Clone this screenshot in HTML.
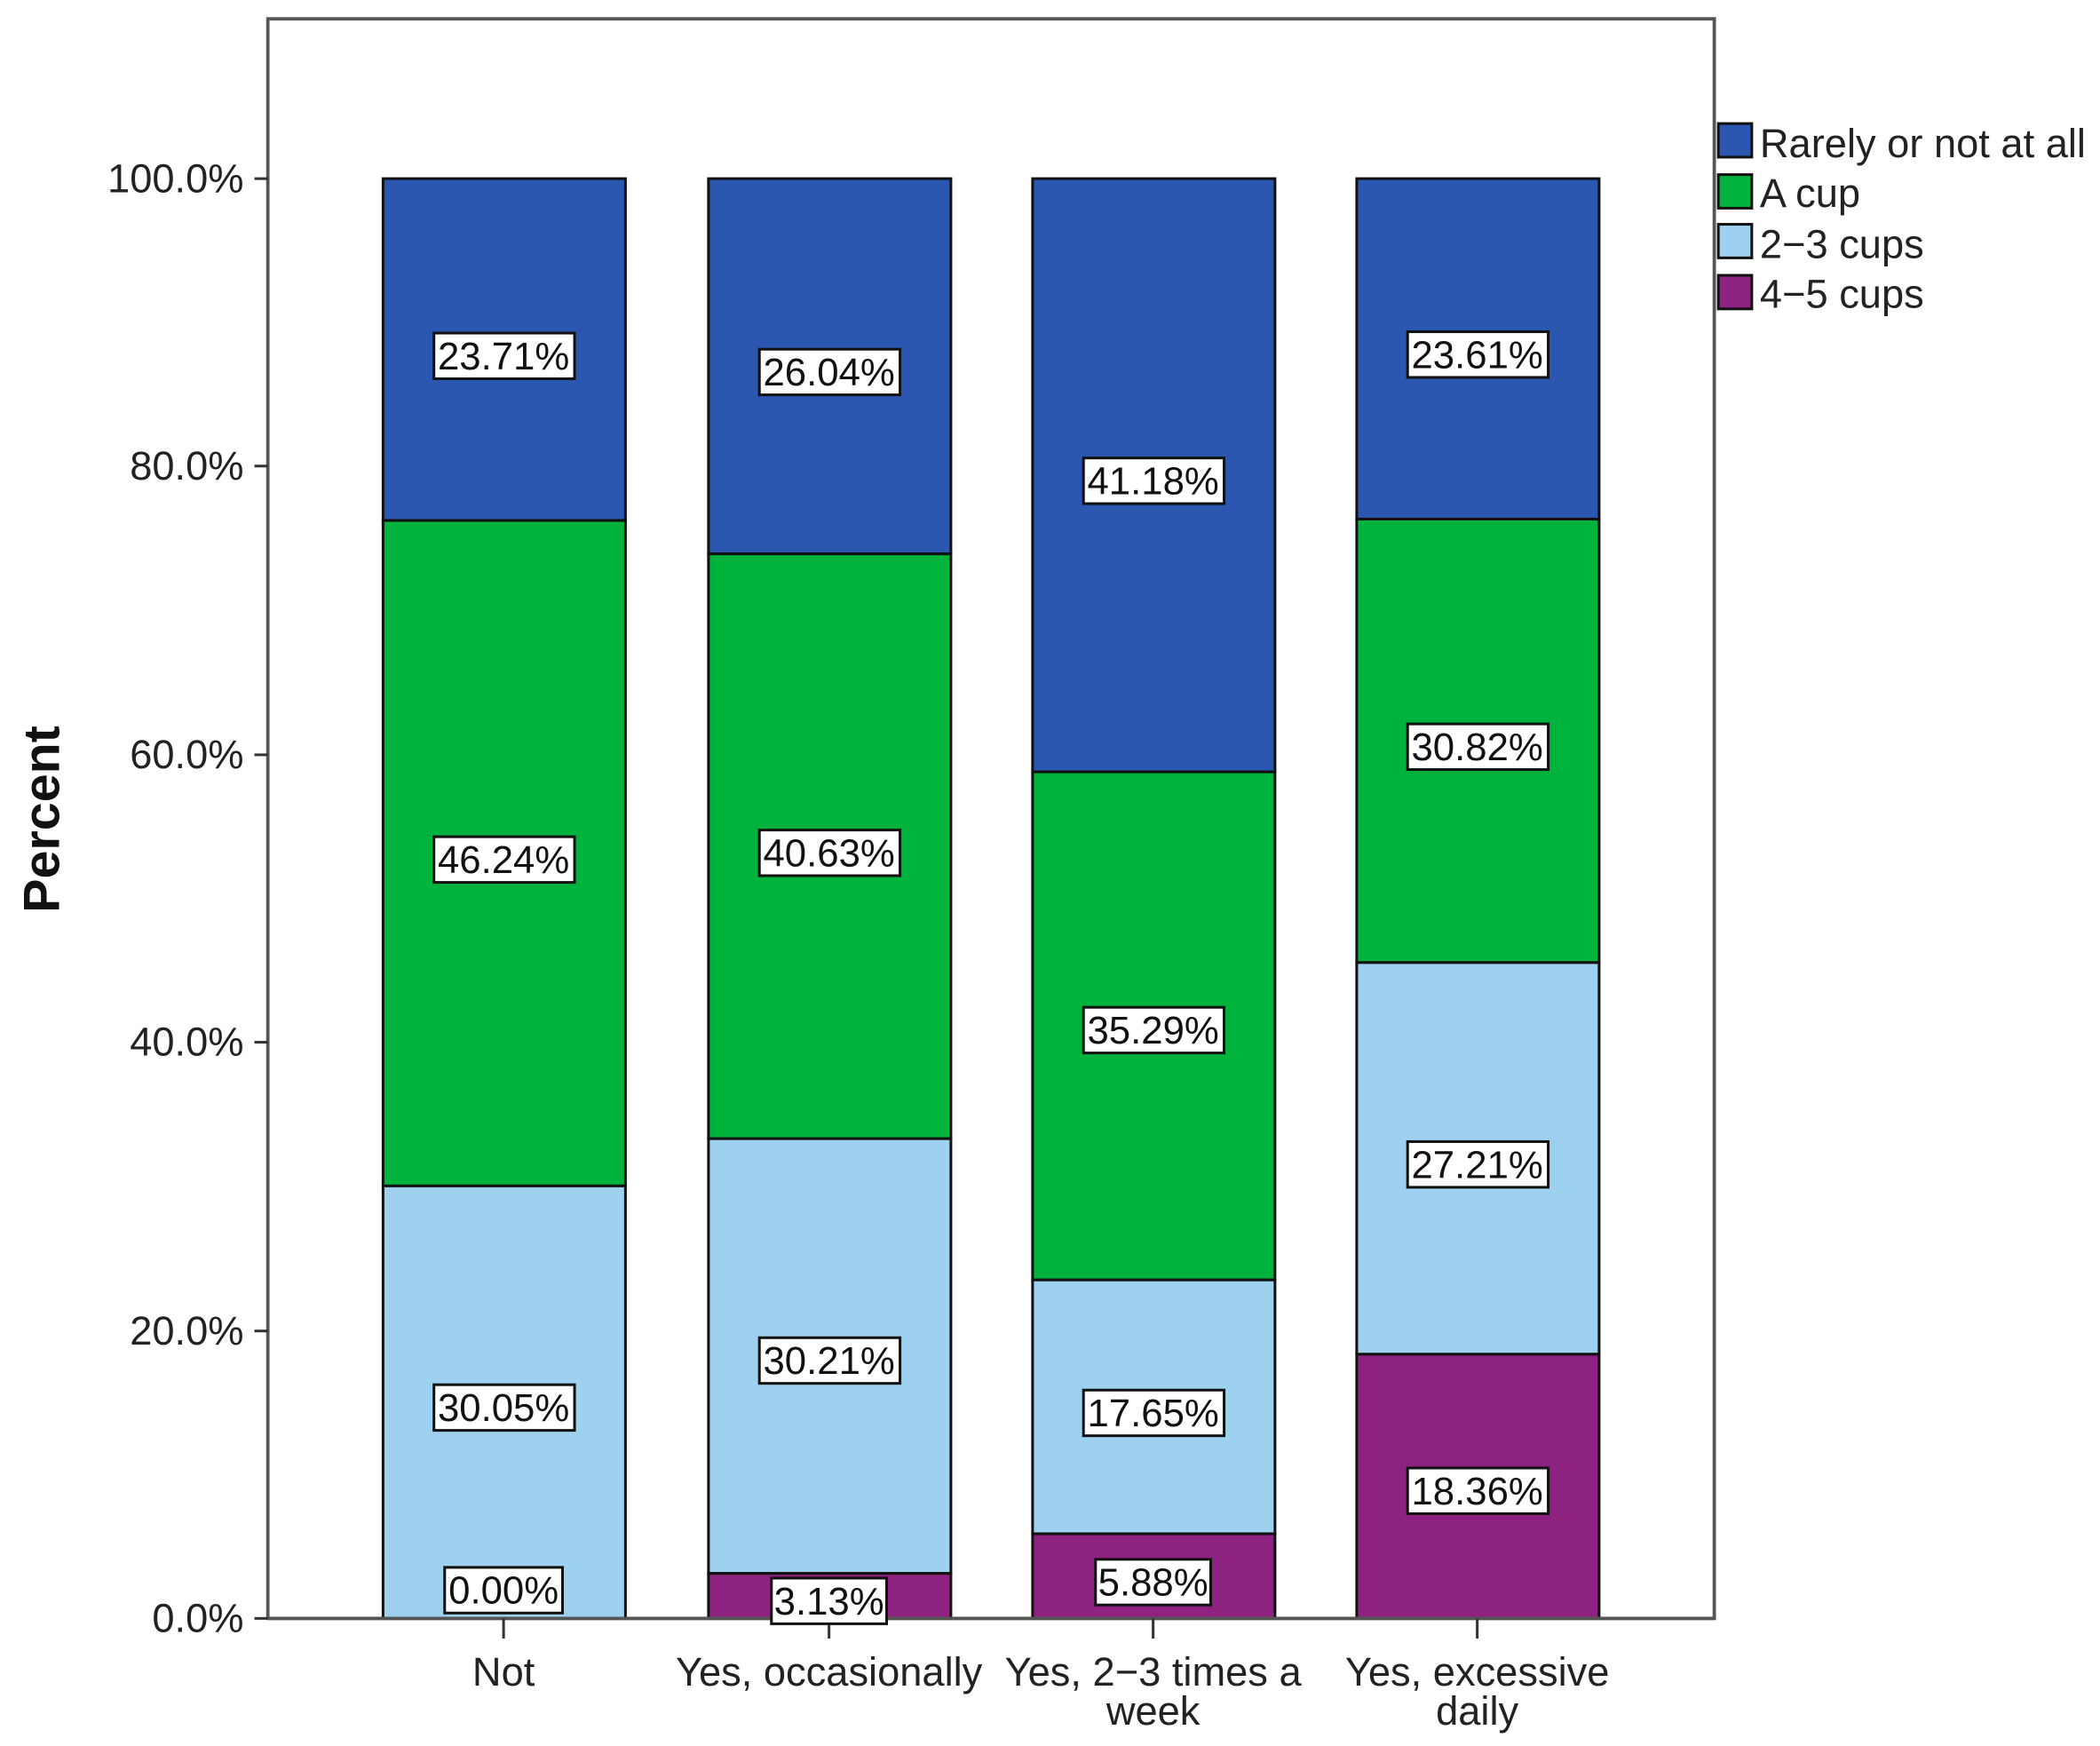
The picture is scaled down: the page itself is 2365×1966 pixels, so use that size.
<!DOCTYPE html>
<html><head><meta charset="utf-8"><style>html,body{margin:0;padding:0;background:#fff}svg{display:block}</style></head>
<body>
<svg width="2365" height="1966" viewBox="0 0 1568 1300" preserveAspectRatio="none" xmlns="http://www.w3.org/2000/svg" font-family="Liberation Sans, Arial, sans-serif">
<rect x="0" y="0" width="1568" height="1300" fill="#fff"/>
<rect x="200" y="14" width="1080" height="1191" fill="none" stroke="#555" stroke-width="2.5"/>
<g stroke="#111" stroke-width="2">
<rect x="286" y="133" width="181" height="254.5" fill="#2C57B0"/>
<rect x="286" y="387.5" width="181" height="495.5" fill="#00B33C"/>
<rect x="286" y="883" width="181" height="322" fill="#9ED1F0"/>
<rect x="529" y="133" width="181" height="279.4" fill="#2C57B0"/>
<rect x="529" y="412.4" width="181" height="435.4" fill="#00B33C"/>
<rect x="529" y="847.8" width="181" height="323.7" fill="#9ED1F0"/>
<rect x="529" y="1171.5" width="181" height="33.5" fill="#8E2280"/>
<rect x="771" y="133" width="181" height="441.7" fill="#2C57B0"/>
<rect x="771" y="574.7" width="181" height="378.3" fill="#00B33C"/>
<rect x="771" y="953" width="181" height="189" fill="#9ED1F0"/>
<rect x="771" y="1142" width="181" height="63" fill="#8E2280"/>
<rect x="1013" y="133" width="181" height="253.5" fill="#2C57B0"/>
<rect x="1013" y="386.5" width="181" height="330.2" fill="#00B33C"/>
<rect x="1013" y="716.7" width="181" height="291.6" fill="#9ED1F0"/>
<rect x="1013" y="1008.3" width="181" height="196.7" fill="#8E2280"/>
</g>
<line x1="200" y1="1205" x2="1280" y2="1205" stroke="#555" stroke-width="2.5"/>
<g stroke="#333" stroke-width="2">
<line x1="190" y1="133" x2="200" y2="133"/><line x1="190" y1="347" x2="200" y2="347"/>
<line x1="190" y1="562" x2="200" y2="562"/><line x1="190" y1="776" x2="200" y2="776"/>
<line x1="190" y1="991" x2="200" y2="991"/><line x1="190" y1="1205" x2="200" y2="1205"/>
<line x1="376" y1="1205" x2="376" y2="1220"/><line x1="619" y1="1205" x2="619" y2="1220"/>
<line x1="861" y1="1205" x2="861" y2="1220"/><line x1="1103" y1="1205" x2="1103" y2="1220"/>
</g>
<g font-size="30" fill="#222" text-anchor="end">
<text x="182" y="143">100.0%</text><text x="182" y="357">80.0%</text>
<text x="182" y="572">60.0%</text><text x="182" y="786">40.0%</text>
<text x="182" y="1001">20.0%</text><text x="182" y="1215">0.0%</text>
</g>
<text transform="translate(44,610) rotate(-90)" font-size="38" font-weight="bold" text-anchor="middle" fill="#111">Percent</text>
<g font-size="30" fill="#222" text-anchor="middle">
<text x="376" y="1255">Not</text>
<text x="619" y="1255">Yes, occasionally</text>
<text x="861" y="1255">Yes, 2−3 times a</text><text x="861" y="1284">week</text>
<text x="1103" y="1255">Yes, excessive</text><text x="1103" y="1284">daily</text>
</g>
<g font-size="29" fill="#111" text-anchor="middle" stroke-width="2">
<g><rect x="324" y="248" width="105" height="34" fill="#fff" stroke="#111"/><text x="376" y="275">23.71%</text></g>
<g><rect x="324" y="623" width="105" height="34" fill="#fff" stroke="#111"/><text x="376" y="650">46.24%</text></g>
<g><rect x="324" y="1031" width="105" height="34" fill="#fff" stroke="#111"/><text x="376" y="1058">30.05%</text></g>
<g><rect x="332" y="1167" width="88" height="34" fill="#fff" stroke="#111"/><text x="376" y="1194">0.00%</text></g>
<g><rect x="567" y="260" width="105" height="34" fill="#fff" stroke="#111"/><text x="619" y="287">26.04%</text></g>
<g><rect x="567" y="618" width="105" height="34" fill="#fff" stroke="#111"/><text x="619" y="645">40.63%</text></g>
<g><rect x="567" y="996" width="105" height="34" fill="#fff" stroke="#111"/><text x="619" y="1023">30.21%</text></g>
<g><rect x="576" y="1175" width="86" height="34" fill="#fff" stroke="#111"/><text x="619" y="1202">3.13%</text></g>
<g><rect x="809" y="341" width="105" height="34" fill="#fff" stroke="#111"/><text x="861" y="368">41.18%</text></g>
<g><rect x="809" y="750" width="105" height="34" fill="#fff" stroke="#111"/><text x="861" y="777">35.29%</text></g>
<g><rect x="809" y="1035" width="105" height="34" fill="#fff" stroke="#111"/><text x="861" y="1062">17.65%</text></g>
<g><rect x="818" y="1161" width="86" height="34" fill="#fff" stroke="#111"/><text x="861" y="1188">5.88%</text></g>
<g><rect x="1051" y="247" width="105" height="34" fill="#fff" stroke="#111"/><text x="1103" y="274">23.61%</text></g>
<g><rect x="1051" y="539" width="105" height="34" fill="#fff" stroke="#111"/><text x="1103" y="566">30.82%</text></g>
<g><rect x="1051" y="850" width="105" height="34" fill="#fff" stroke="#111"/><text x="1103" y="877">27.21%</text></g>
<g><rect x="1051" y="1093" width="105" height="34" fill="#fff" stroke="#111"/><text x="1103" y="1120">18.36%</text></g>
</g>
<g stroke="#111" stroke-width="2">
<rect x="1283" y="92" width="25" height="25" fill="#2C57B0"/>
<rect x="1283" y="130" width="25" height="25" fill="#00B33C"/>
<rect x="1283" y="167" width="25" height="25" fill="#9ED1F0"/>
<rect x="1283" y="205" width="25" height="25" fill="#8E2280"/>
</g>
<g font-size="30" fill="#222">
<text x="1314" y="117">Rarely or not at all</text>
<text x="1314" y="154">A cup</text>
<text x="1314" y="192">2−3 cups</text>
<text x="1314" y="229">4−5 cups</text>
</g>
</svg>
</body></html>
